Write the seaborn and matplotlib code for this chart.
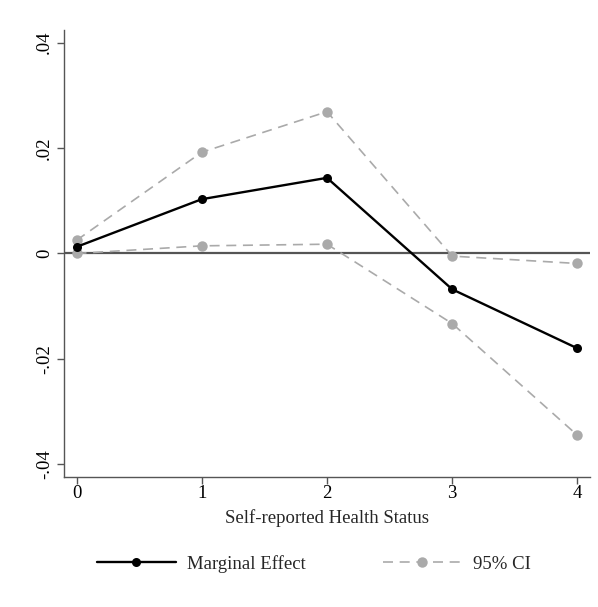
import pandas as pd
import seaborn as sns
import matplotlib.pyplot as plt
from matplotlib.lines import Line2D

# values
health_status = [0, 1, 2, 3, 4]
marginal_effect = [0.00125, 0.0103, 0.01435, -0.0068, -0.0180]
ci_upper = [0.0025, 0.0192, 0.0269, -0.0005, -0.0019]
ci_lower = [0.0000, 0.00145, 0.00176, -0.0133, -0.0345]
y_ticks = [-0.04, -0.02, 0, 0.02, 0.04]
y_tick_labels = ["-.04", "-.02", "0", ".02", ".04"]

df = pd.DataFrame({
    "status": health_status,
    "me": marginal_effect,
    "upper": ci_upper,
    "lower": ci_lower,
})

sns.set_style("white")
plt.rcParams["font.family"] = ["Liberation Serif", "DejaVu Serif"]

fig = plt.figure(figsize=(5.98, 6.07), dpi=100)
ax = fig.add_axes([0.107, 0.2142, 0.8796, 0.7364])

axis_col = "#555555"
ci_col = "#aaaaaa"
fs = 13.5

ax.axhline(0, color="#555555", lw=1.6, zorder=1)

for col in ["upper", "lower"]:
    sns.lineplot(data=df, x="status", y=col, ax=ax, color=ci_col, lw=1.2,
                 marker="o", markersize=7.5, markeredgewidth=0,
                 legend=False, zorder=2)
    ax.lines[-1].set_dashes((6, 4))

sns.lineplot(data=df, x="status", y="me", ax=ax, color="black", lw=1.7,
             marker="o", markersize=6.5, markeredgewidth=0, legend=False,
             zorder=3)

ax.set_xlim(-0.1, 4.1)
ax.set_ylim(-0.0424, 0.0424)
ax.set_xticks(health_status)
ax.set_yticks(y_ticks)
ax.set_yticklabels(y_tick_labels, rotation=90, va="center")
ax.set_ylabel("")

for side in ["top", "right"]:
    ax.spines[side].set_visible(False)
for side in ["left", "bottom"]:
    ax.spines[side].set_color(axis_col)
    ax.spines[side].set_linewidth(1.0)
ax.tick_params(axis="both", direction="out", length=5, width=1.0,
               color=axis_col, labelsize=fs, labelcolor="black", pad=3)
ax.tick_params(axis="x", bottom=True, pad=1)
ax.tick_params(axis="y", left=True)
ax.set_xlabel("Self-reported Health Status", fontsize=fs, labelpad=5)

handles = [
    Line2D([], [], color="black", lw=1.7, marker="o", markersize=6.5,
           markeredgewidth=0),
    Line2D([], [], color=ci_col, lw=1.2, marker="o", markersize=7.5,
           markeredgewidth=0, dashes=(6, 4)),
]
fig.legend(handles, ["Marginal Effect", "95% CI"], loc="center",
           bbox_to_anchor=(0.5245, 0.0708), ncol=2, frameon=False,
           fontsize=fs, handlelength=4.2, columnspacing=4.1,
           handletextpad=0.6)

plt.savefig("out.png", dpi=100)
